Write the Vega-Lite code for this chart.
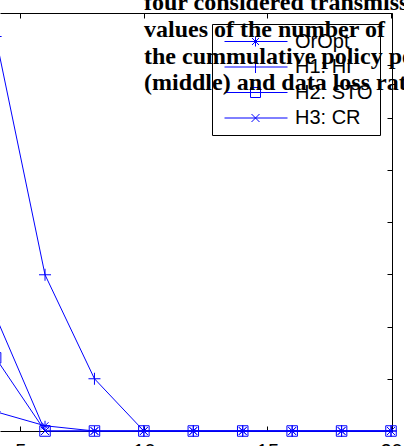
{
  "$schema": "https://vega.github.io/schema/vega-lite/v6.json",
  "width": 392,
  "height": 418,
  "autosize": {"type": "none"},
  "padding": {"left": 0, "top": 13, "right": 12, "bottom": 15},
  "background": "white",
  "config": {
    "view": {"stroke": null},
    "axis": {"grid": false, "domainColor": "black", "tickColor": "black", "labelColor": "black", "labelFont": "Liberation Sans", "labelFontSize": 20, "domainWidth": 1, "tickWidth": 1, "title": null}
  },
  "title": {
    "text": ["four considered transmiss", "values of the number of", "the cummulative policy pe", "(middle) and data loss rat"],
    "anchor": "start",
    "frame": "group",
    "orient": "top",
    "baseline": "alphabetic",
    "font": "Liberation Serif",
    "fontWeight": "bold",
    "fontSize": 24,
    "lineHeight": 26.7,
    "color": "black",
    "offset": 0,
    "dx": 144,
    "dy": 102
  },
  "data": {
    "values": [
      {"n": 4, "v": 0.37, "series": "OrOpt"},
      {"n": 6, "v": 0.1, "series": "OrOpt"},
      {"n": 8, "v": 0, "series": "OrOpt"},
      {"n": 10, "v": 0, "series": "OrOpt"},
      {"n": 12, "v": 0, "series": "OrOpt"},
      {"n": 14, "v": 0, "series": "OrOpt"},
      {"n": 16, "v": 0, "series": "OrOpt"},
      {"n": 18, "v": 0, "series": "OrOpt"},
      {"n": 20, "v": 0, "series": "OrOpt"},
      {"n": 4, "v": 7.55, "series": "H1: HI"},
      {"n": 6, "v": 2.99, "series": "H1: HI"},
      {"n": 8, "v": 1.0, "series": "H1: HI"},
      {"n": 10, "v": 0, "series": "H1: HI"},
      {"n": 12, "v": 0, "series": "H1: HI"},
      {"n": 14, "v": 0, "series": "H1: HI"},
      {"n": 16, "v": 0, "series": "H1: HI"},
      {"n": 18, "v": 0, "series": "H1: HI"},
      {"n": 20, "v": 0, "series": "H1: HI"},
      {"n": 4, "v": 1.4, "series": "H2: STO"},
      {"n": 6, "v": 0, "series": "H2: STO"},
      {"n": 8, "v": 0, "series": "H2: STO"},
      {"n": 10, "v": 0, "series": "H2: STO"},
      {"n": 12, "v": 0, "series": "H2: STO"},
      {"n": 14, "v": 0, "series": "H2: STO"},
      {"n": 16, "v": 0, "series": "H2: STO"},
      {"n": 18, "v": 0, "series": "H2: STO"},
      {"n": 20, "v": 0, "series": "H2: STO"},
      {"n": 4, "v": 2.2, "series": "H3: CR"},
      {"n": 6, "v": 0, "series": "H3: CR"},
      {"n": 8, "v": 0, "series": "H3: CR"},
      {"n": 10, "v": 0, "series": "H3: CR"},
      {"n": 12, "v": 0, "series": "H3: CR"},
      {"n": 14, "v": 0, "series": "H3: CR"},
      {"n": 16, "v": 0, "series": "H3: CR"},
      {"n": 18, "v": 0, "series": "H3: CR"},
      {"n": 20, "v": 0, "series": "H3: CR"}
    ]
  },
  "resolve": {"axis": {"x": "independent", "y": "independent"}, "scale": {"shape": "independent"}},
  "layer": [
    {
      "mark": {"type": "line", "color": "blue", "strokeWidth": 1},
      "encoding": {
        "x": {"field": "n", "type": "quantitative", "scale": {"domain": [4.178, 20.04], "nice": false, "zero": false},
              "axis": {"orient": "bottom", "values": [5, 10, 15, 20], "tickSize": -5, "labelPadding": 15, "labelFlush": false, "labelOverlap": false, "labelBound": false}},
        "y": {"field": "v", "type": "quantitative", "scale": {"domain": [0, 8], "nice": false},
              "axis": {"orient": "right", "values": [0, 1, 2, 3, 4, 5, 6, 7, 8], "tickSize": -5, "labels": false}},
        "detail": {"field": "series"}
      }
    },
    {
      "mark": {"type": "point", "filled": false, "color": "blue", "size": 100, "strokeWidth": 1, "opacity": 1},
      "encoding": {
        "x": {"field": "n", "type": "quantitative", "scale": {"domain": [4.178, 20.04], "nice": false, "zero": false},
              "axis": {"orient": "top", "values": [5, 10, 15, 20], "tickSize": -5, "labels": false}},
        "y": {"field": "v", "type": "quantitative", "scale": {"domain": [0, 8], "nice": false}, "axis": null},
        "shape": {
          "field": "series", "type": "nominal",
          "scale": {
            "domain": ["OrOpt", "H1: HI", "H2: STO", "H3: CR"],
            "range": [
              "M0,-1L0,1M-1,0L1,0M-0.7,-0.7L0.7,0.7M-0.7,0.7L0.7,-0.7",
              "M0,-1.2L0,1.2M-1.2,0L1.2,0",
              "M-1.05,-1.05L1.05,-1.05L1.05,1.05L-1.05,1.05Z",
              "M-0.8,-0.8L0.8,0.8M-0.8,0.8L0.8,-0.8"
            ]
          },
          "legend": null
        }
      }
    },
    {
      "transform": [{"filter": "false"}],
      "mark": {"type": "point", "filled": false, "color": "blue", "size": 400, "strokeWidth": 1, "opacity": 1},
      "encoding": {
        "shape": {
          "field": "series", "type": "nominal",
          "scale": {
            "domain": ["OrOpt", "H1: HI", "H2: STO", "H3: CR"],
            "range": [
              "M-0.5,0L5.8,0M2.6,-0.5L2.6,0.5M2.1,0L3.1,0M2.25,-0.35L2.95,0.35M2.25,0.35L2.95,-0.35",
              "M-0.5,0L5.8,0M2.6,-0.6L2.6,0.6",
              "M-0.5,0L5.8,0M2.1,-0.5L3.1,-0.5L3.1,0.5L2.1,0.5Z",
              "M-0.5,0L5.8,0M2.2,-0.4L3,0.4M2.2,0.4L3,-0.4"
            ]
          },
          "legend": {
            "orient": "none",
            "legendX": 212,
            "legendY": 11,
            "title": null,
            "strokeColor": "black",
            "padding": 7,
            "labelFont": "Liberation Sans",
            "labelFontSize": 20,
            "labelColor": "black",
            "symbolSize": 400,
            "symbolStrokeWidth": 1,
            "symbolStrokeColor": "blue",
            "rowPadding": 4.5,
            "labelOffset": 55
          }
        }
      }
    }
  ]
}
